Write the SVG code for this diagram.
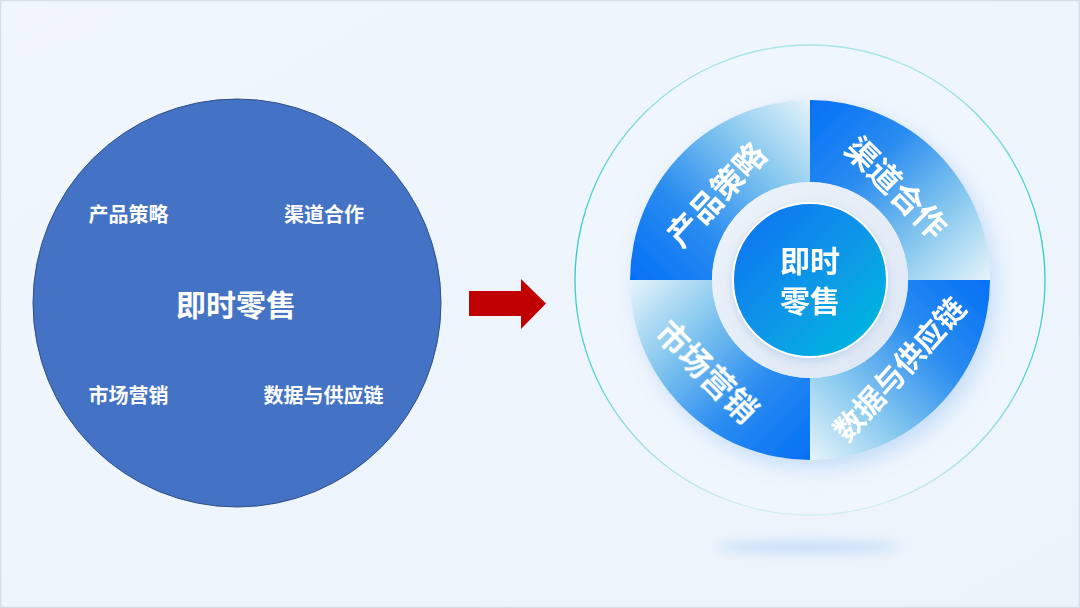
<svg xmlns="http://www.w3.org/2000/svg" width="1080" height="608" viewBox="0 0 1080 608">
  <defs>
    <style>
      .cjk { font-family: "Noto Sans CJK SC", "Noto Sans", sans-serif; font-weight: 700; fill: #FFFFFF; text-anchor: middle; dominant-baseline: central; }
      .lbl { font-size: 20px; }
      .core { font-size: 30px; }
      .q4 { font-size: 32px; }
      .q6 { font-size: 30px; }
    </style>
    <linearGradient id="bg" x1="0" y1="0" x2="1" y2="1">
      <stop offset="0" stop-color="#F1F6FD"/>
      <stop offset="1" stop-color="#ECF3FB"/>
    </linearGradient>
    <linearGradient id="quad" x1="0" y1="0" x2="1" y2="1">
      <stop offset="0" stop-color="#0470F6"/>
      <stop offset="0.35" stop-color="#2A8CF0"/>
      <stop offset="0.7" stop-color="#8ACAEF"/>
      <stop offset="1" stop-color="#E6F4FA"/>
    </linearGradient>
    <linearGradient id="coreFill" x1="0" y1="0" x2="1" y2="1">
      <stop offset="0" stop-color="#0A6FF3"/>
      <stop offset="1" stop-color="#05BDDD"/>
    </linearGradient>
    <linearGradient id="ringFill" x1="0" y1="0" x2="1" y2="1">
      <stop offset="0" stop-color="#EEF3FA"/>
      <stop offset="1" stop-color="#DCE7F4"/>
    </linearGradient>
    <linearGradient id="outerStroke" x1="0" y1="0" x2="0" y2="1">
      <stop offset="0" stop-color="#A8E6E4"/>
      <stop offset="0.45" stop-color="#2CC9C4"/>
      <stop offset="0.7" stop-color="#5FD3D0"/>
      <stop offset="1" stop-color="#D4EEF2"/>
    </linearGradient>
    <filter id="ringShadow" x="-30%" y="-30%" width="160%" height="160%">
      <feDropShadow dx="6" dy="8" stdDeviation="10" flood-color="#5A9CF0" flood-opacity="0.28"/>
    </filter>
    <filter id="blur6" x="-50%" y="-300%" width="200%" height="700%">
      <feGaussianBlur stdDeviation="6"/>
    </filter>
    <filter id="coreShadow" x="-30%" y="-30%" width="160%" height="160%">
      <feDropShadow dx="0" dy="3" stdDeviation="5" flood-color="#7FA8D8" flood-opacity="0.35"/>
    </filter>
  </defs>

  <!-- background -->
  <rect x="0" y="0" width="1080" height="608" fill="url(#bg)"/>
  <rect x="0.5" y="0.5" width="1079" height="607" fill="none" stroke="#D6DDE6" stroke-width="1.5"/>

  <!-- left diagram -->
  <g id="left-circle">
    <circle cx="237" cy="303" r="204" fill="#4472C4" stroke="#2F4F86" stroke-width="1"/>
    <text class="cjk core" x="236" y="303">即时零售</text>
  </g>
  <g id="left-product"><text class="cjk lbl" x="128.5" y="213">产品策略</text></g>
  <g id="left-channel"><text class="cjk lbl" x="324" y="213">渠道合作</text></g>
  <g id="left-marketing"><text class="cjk lbl" x="128.5" y="394">市场营销</text></g>
  <g id="left-data"><text class="cjk lbl" x="323.5" y="394">数据与供应链</text></g>

  <!-- connector -->
  <g id="connectors">
    <polygon points="469,291 521,291 521,279 546,303.5 521,329 521,316 469,316" fill="#C00000"/>
  </g>

  <!-- right diagram -->
  <g id="outer-ring">
    <circle cx="810" cy="280" r="235" fill="#F2F7FD" fill-opacity="0.5" stroke="url(#outerStroke)" stroke-width="1.3"/>
  </g>
  <g id="floor-shadow">
    <ellipse cx="808" cy="547" rx="92" ry="5" fill="#A9CFF5" opacity="0.7" filter="url(#blur6)"/>
  </g>

  <g id="quadrants" filter="url(#ringShadow)">
    <g id="q-channel">
      <path d="M810,100 A180,180 0 0 1 990,280 L908,280 A98,98 0 0 0 810,182 Z" fill="url(#quad)"/>
    </g>
    <g id="q-data">
      <path d="M810,100 A180,180 0 0 1 990,280 L908,280 A98,98 0 0 0 810,182 Z" fill="url(#quad)" transform="rotate(90 810 280)"/>
    </g>
    <g id="q-marketing">
      <path d="M810,100 A180,180 0 0 1 990,280 L908,280 A98,98 0 0 0 810,182 Z" fill="url(#quad)" transform="rotate(180 810 280)"/>
    </g>
    <g id="q-product">
      <path d="M810,100 A180,180 0 0 1 990,280 L908,280 A98,98 0 0 0 810,182 Z" fill="url(#quad)" transform="rotate(270 810 280)"/>
    </g>
  </g>

  <g id="labels-right">
    <text class="cjk q4" transform="translate(715 193) rotate(-47)">产品策略</text>
    <text class="cjk q4" transform="translate(898 186) rotate(45)">渠道合作</text>
    <text class="cjk q4" transform="translate(709 370) rotate(45)">市场营销</text>
    <text class="cjk q6" transform="translate(898 368) rotate(-48)">数据与供应链</text>
  </g>

  <g id="center">
    <circle cx="810" cy="280" r="98" fill="url(#ringFill)"/>
    <circle cx="810" cy="280" r="77" fill="url(#coreFill)" stroke="#FFFFFF" stroke-width="2" filter="url(#coreShadow)"/>
    <text class="cjk core" x="810" y="259">即时</text>
    <text class="cjk core" x="810" y="299">零售</text>
  </g>
</svg>
